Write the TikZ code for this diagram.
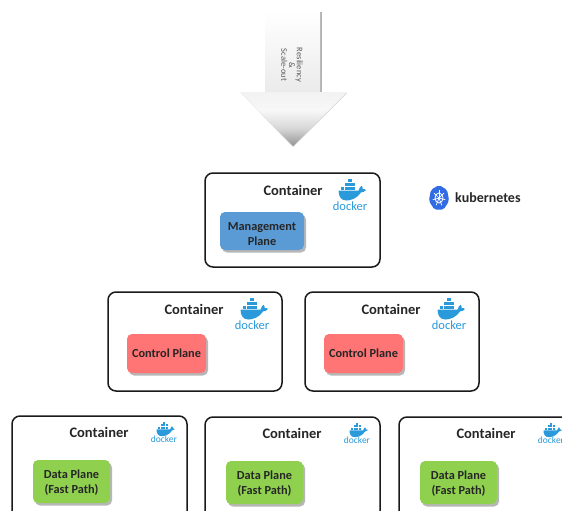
\documentclass[tikz,border=0pt]{standalone}
\usepackage{fontspec}
\setmainfont{Carlito}
\usetikzlibrary{shadows,shapes.geometric,shadings}
\definecolor{dockblue}{HTML}{2A9ADB}
\definecolor{kubeblue}{HTML}{326CE5}
\definecolor{mgmtblue}{HTML}{5B9BD5}
\definecolor{ctrlred}{HTML}{FF7474}
\definecolor{dataGreen}{HTML}{8FD04E}
\pgfdeclareverticalshading{headshade}{100bp}{color(0bp)=(black!42); color(25bp)=(black!42); color(41bp)=(black!16); color(58bp)=(black!3); color(75bp)=(black!5); color(100bp)=(black!5)}
\tikzset{
  containerbox/.style={draw=black!90,line width=1.5pt,rounded corners=8pt,fill=white,inner sep=0pt},
  planebox/.style={rounded corners=5pt,inner sep=0pt,align=center,font=\fontsize{12.3}{14.4}\selectfont\bfseries,text=black!85,
    drop shadow={shadow xshift=2pt,shadow yshift=-2.5pt,opacity=.4,fill=black!70}},
  mgmtplane/.style={planebox,fill=mgmtblue,minimum width=84pt,minimum height=38pt},
  ctrlplane/.style={planebox,fill=ctrlred,minimum width=79pt,minimum height=39pt},
  dataplane/.style={planebox,fill=dataGreen,minimum width=77pt,minimum height=43pt},
  ctitle/.style={font=\fontsize{14.5}{16}\selectfont\bfseries,text=black!85,inner sep=0pt},
  docklabel/.style={text=dockblue,inner sep=0pt},
}
\newcommand{\whale}[4]{% x, y(whale centre), scale, name
  \begin{scope}[shift={(#1,#2)},scale=#3]
    \fill[dockblue] (-13,-1) -- (8,-1) .. controls (8.5,-4) and (10,-5) .. (11,-6)
      .. controls (12,-5) and (12.8,-3.5) .. (12.3,-2.6)
      .. controls (13.5,-3) and (15,-2.6) .. (15.7,-1.5)
      .. controls (14.5,0) and (12.5,1) .. (10.5,1)
      .. controls (7,7) and (0,9.5) .. (-5,9.5)
      .. controls (-11,9.5) and (-13.5,4) .. (-13,-1) -- cycle;
    \foreach \cx in {-10.5,-6.6,-2.7,1.2} \fill[dockblue] (\cx,-5) rectangle ++(3.3,3.3);
    \foreach \cx in {-6.6,-2.7,1.2} \fill[dockblue] (\cx,-8.9) rectangle ++(3.3,3.3);
    \fill[dockblue] (-2.7,-12.8) rectangle ++(3.3,3.3);
  \end{scope}
}
\begin{document}
\begin{tikzpicture}[x=1pt,y=-1pt]
\useasboundingbox (0,0) rectangle (562,511);
\clip (0,0) rectangle (562,511);
% arrow
\coordinate (shaftA) at (265,12);
\coordinate (shaftB) at (320,92);
\coordinate (headL) at (240,92);
\coordinate (headR) at (347,92);
\coordinate (headT) at (293,146);
\fill[black!30] (320,12) rectangle (322,92);
\shade[top color=white,bottom color=black!8] (shaftA) rectangle (shaftB);
\fill[black!18] (241,93) -- (293,147) -- (347,93) -- cycle;
\shade[shading=headshade] (headL) -- (headR) -- (headT) -- cycle;
\node[rotate=-90,font=\fontsize{8.5}{7.8}\selectfont,text=black!65,align=center,inner sep=0pt] (arrowlabel) at (292,65) {Resiliency\\\&\\Scale-out};
% management
\node[containerbox,minimum width=175pt,minimum height=94pt] (mgmt) at (292.5,220) {};
\node[ctitle] (mgmtt) at (293,190) {Container};
\node[mgmtplane] (mgmtp) at (262,231) {\rule{0pt}{14pt}Management\\Plane};
\whale{351}{191.5}{.95}{d1}
\node[docklabel,font=\fontsize{12.5}{13}\selectfont] (d1t) at (350,206) {docker};
% kubernetes
\begin{scope}[shift={(439,198)},xscale=.8]
\node[regular polygon,regular polygon sides=7,fill=kubeblue,rounded corners=2pt,minimum size=26pt,inner sep=0pt,transform shape] (k8slogo) at (0,0) {};
\draw[white,line width=.8pt] (0,0) circle (5pt);
\foreach \a in {0,51.43,...,360} \draw[white,line width=.7pt] (0,0) -- ++(\a+90:8pt);
\end{scope}
\node[font=\fontsize{14}{16}\selectfont\bfseries,text=black!85,inner sep=0pt,anchor=west] (k8st) at (455,198) {kubernetes};
% control
\node[containerbox,minimum width=174pt,minimum height=99pt] (c1) at (195,341.5) {};
\node[containerbox,minimum width=174pt,minimum height=99pt] (c2) at (392,341.5) {};
\node[ctitle] (c1t) at (194,309.5) {Container};
\node[ctitle] (c2t) at (391,309.5) {Container};
\node[ctrlplane] (c1p) at (166.5,353.5) {Control Plane};
\node[ctrlplane] (c2p) at (363.5,353.5) {Control Plane};
\whale{253}{310.5}{.95}{d2}
\node[docklabel,font=\fontsize{12.5}{13}\selectfont] (d2t) at (252,325) {docker};
\whale{450}{310.5}{.95}{d3}
\node[docklabel,font=\fontsize{12.5}{13}\selectfont] (d3t) at (449,325) {docker};
% data
\node[containerbox,minimum width=175pt,minimum height=110pt] (p1) at (99.5,471) {};
\node[containerbox,minimum width=175pt,minimum height=110pt] (p2) at (292.5,472) {};
\node[containerbox,minimum width=175pt,minimum height=110pt] (p3) at (486.5,472) {};
\node[ctitle] (p1t) at (99,432.5) {Container};
\node[ctitle] (p2t) at (292,433.5) {Container};
\node[ctitle] (p3t) at (486,433.5) {Container};
\node[dataplane] (p1p) at (71.5,481.5) {\rule{0pt}{10.5pt}Data Plane\\(Fast Path)};
\node[dataplane] (p2p) at (264.5,482.5) {\rule{0pt}{10.5pt}Data Plane\\(Fast Path)};
\node[dataplane] (p3p) at (458.5,482.5) {\rule{0pt}{10.5pt}Data Plane\\(Fast Path)};
\whale{165}{430}{.65}{d4}
\node[docklabel,font=\fontsize{9.5}{10}\selectfont] (d4t) at (164,439) {docker};
\whale{358}{431}{.65}{d5}
\node[docklabel,font=\fontsize{9.5}{10}\selectfont] (d5t) at (357,440) {docker};
\whale{552}{431}{.65}{d6}
\node[docklabel,font=\fontsize{9.5}{10}\selectfont] (d6t) at (551,440) {docker};
\end{tikzpicture}
\end{document}
